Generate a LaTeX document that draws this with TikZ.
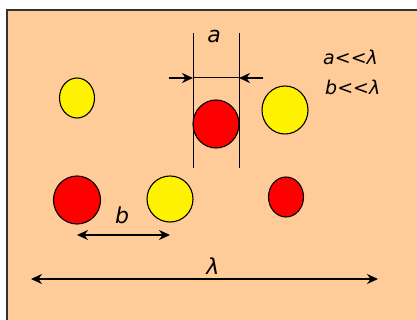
\documentclass[tikz,border=0pt]{standalone}
\usepackage{fontspec}
\setmainfont[Ligatures=NoCommon]{DejaVu Sans}
\usetikzlibrary{shapes.geometric,arrows.meta}
\definecolor{peach}{RGB}{255,204,153}
\definecolor{frame}{RGB}{50,50,50}
\tikzset{
  dot/.style={ellipse,draw=black,line width=1.1pt,inner sep=0pt},
  reddot/.style={dot,fill=red},
  yellowdot/.style={dot,fill=yellow},
  dimline/.style={line width=1.5pt},
  guide/.style={line width=1pt},
  tip/.style={-{Stealth[length=11pt,width=10pt]}},
  both/.style={{Stealth[length=11pt,width=10pt]}-{Stealth[length=11pt,width=10pt]}},
  lbl/.style={font=\fontsize{22}{26}\selectfont\itshape,inner sep=0pt,anchor=base},
  cond/.style={font=\fontsize{19}{23}\selectfont\itshape,inner sep=0pt,anchor=base west},
}
\begin{document}
\begin{tikzpicture}[x=1pt,y=-1pt]
\useasboundingbox (0,0) rectangle (417,320);
\clip (0,0) rectangle (417,320);
\fill[white] (0,0) rectangle (417,320);
\draw[frame,fill=peach,line width=1.6pt] (7,10) rectangle (430,330);
% dots
\node[yellowdot,minimum width=35pt,minimum height=40pt] (y1) at (77,98) {};
\node[reddot,minimum width=46pt,minimum height=48pt] (r1) at (216,124) {};
\node[yellowdot,minimum width=46pt,minimum height=48pt] (y2) at (285,110) {};
\node[reddot,minimum width=47pt,minimum height=48pt] (r2) at (77,200) {};
\node[yellowdot,minimum width=46pt,minimum height=46pt] (y3) at (170,199) {};
\node[reddot,minimum width=35pt,minimum height=40pt] (r3) at (286,197) {};
% guide lines for a
\coordinate (gl1) at (193,33);
\coordinate (gl2) at (193,168);
\coordinate (gr1) at (239,33);
\coordinate (gr2) at (239,168);
\draw[guide] (gl1) -- (gl2);
\draw[guide] (gr1) -- (gr2);
\coordinate (al) at (169,78);
\coordinate (alt) at (193,78);
\coordinate (ar) at (263,78);
\coordinate (art) at (239,78);
\draw[dimline,tip] (al) -- (alt);
\draw[dimline,tip] (ar) -- (art);
\draw[guide] (alt) -- (art);
\node[lbl] (la) at (214,43) {a};
% b
\coordinate (b1) at (77,235);
\coordinate (b2) at (170,235);
\draw[dimline,both] (b1) -- (b2);
\node[lbl] (lb) at (122,223) {b};
% lambda
\coordinate (l1) at (31,279);
\coordinate (l2) at (378,279);
\draw[dimline,both] (l1) -- (l2);
\node[lbl] (ll) at (213,274) {λ};
% conditions
\node[cond] (c1) at (323,65) {a{<}{<}λ};
\node[cond] (c2) at (325,95) {b{<}{<}λ};
\end{tikzpicture}
\end{document}
